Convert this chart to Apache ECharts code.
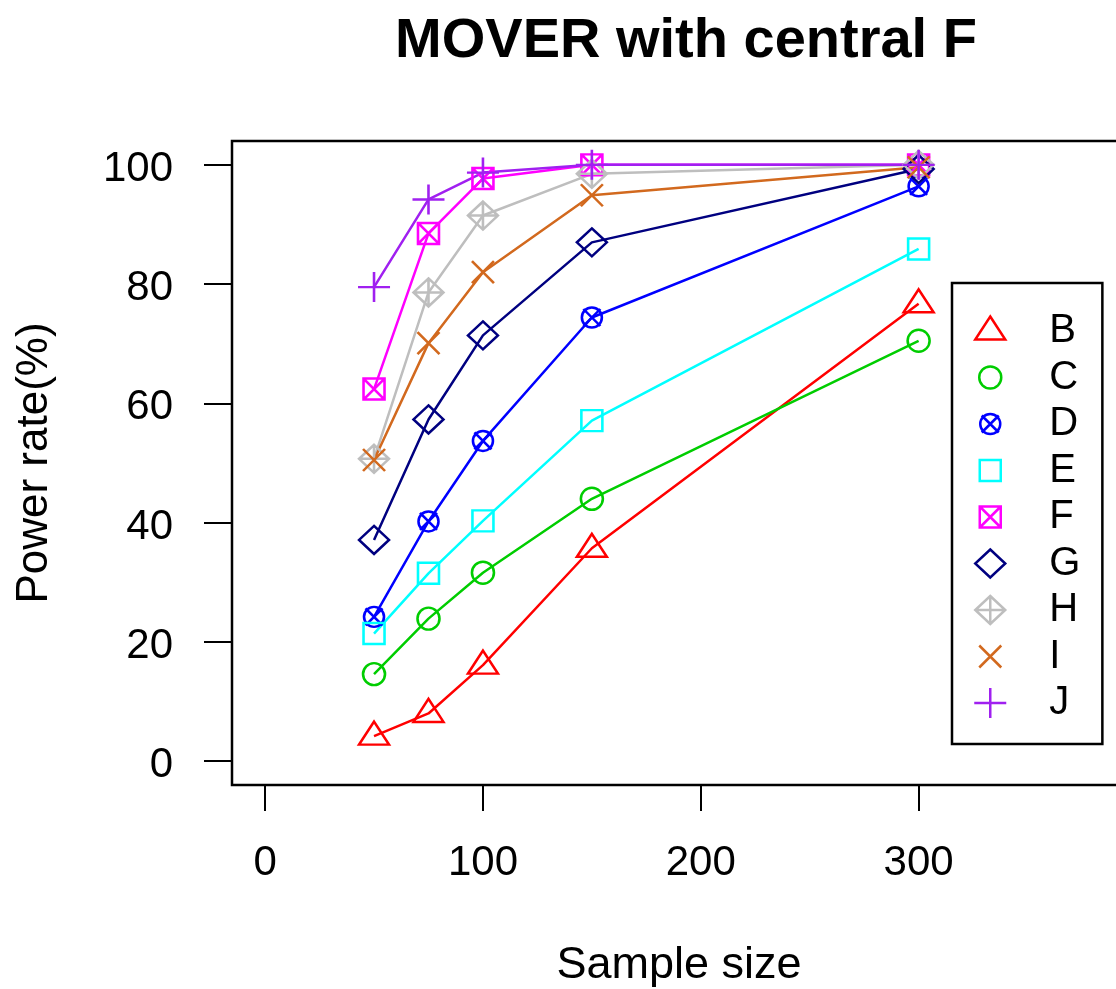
<!DOCTYPE html>
<html>
<head>
<meta charset="utf-8">
<title>MOVER with central F</title>
<script src="https://cdn.jsdelivr.net/npm/echarts@6/dist/echarts.min.js"></script>
<style>
  html, body { margin: 0; padding: 0; background: #ffffff; }
  #chart { width: 1116px; height: 989px; }
</style>
</head>
<body>
<div id="chart"></div>
<script>
// Sample sizes on the x axis
const sampleSizes = [50, 75, 100, 150, 300];

// Power rate (%) per method
const seriesB = [4.2, 8.0, 16.1, 35.7, 76.7];
const seriesC = [14.6, 23.9, 31.6, 44.0, 70.5];
const seriesD = [24.2, 40.2, 53.7, 74.4, 96.4];
const seriesE = [21.4, 31.5, 40.3, 57.1, 85.9];
const seriesF = [62.4, 88.5, 97.7, 100, 100];
const seriesG = [37.1, 57.3, 71.4, 87.0, 99.3];
const seriesH = [50.7, 78.6, 91.5, 98.5, 100];
const seriesI = [50.5, 70.1, 82.0, 94.9, 99.6];
const seriesJ = [79.5, 94.2, 98.7, 100, 100];

const methodNames = ['B', 'C', 'D', 'E', 'F', 'G', 'H', 'I', 'J'];
const methodValues = [seriesB, seriesC, seriesD, seriesE, seriesF, seriesG, seriesH, seriesI, seriesJ];

// Tick labels
const xTicks = [0, 100, 200, 300];
const yTicks = [0, 20, 40, 60, 80, 100];

const colors = ['#FF0000', '#00CD00', '#0000FF', '#00FFFF', '#FF00FF', '#000080', '#BEBEBE', '#D2691E', '#A020F0'];

// Open plotting symbols, all drawn in a common 32x30 frame
const FRAME = 'M0,0 M32,30 ';
const symbols = [
  FRAME + 'M16,0.5 L31,23.5 L1,23.5 Z',                                           // triangle
  FRAME + 'M5,15 A11,11 0 1 1 27,15 A11,11 0 1 1 5,15 Z',                          // circle
  FRAME + 'M6,15 A10,10 0 1 1 26,15 A10,10 0 1 1 6,15 Z M7.5,6.5 L24.5,23.5 M7.5,23.5 L24.5,6.5', // circle with x
  FRAME + 'M5.5,4.5 L26.5,4.5 L26.5,25.5 L5.5,25.5 Z',                             // square
  FRAME + 'M5.5,4.5 L26.5,4.5 L26.5,25.5 L5.5,25.5 Z M5.5,4.5 L26.5,25.5 M5.5,25.5 L26.5,4.5', // square with x
  FRAME + 'M16,1 L31,15 L16,29 L1,15 Z',                                           // diamond
  FRAME + 'M16,1 L31,15 L16,29 L1,15 Z M16,1 L16,29 M1,15 L31,15',                 // diamond with plus
  FRAME + 'M5,4 L27,26 M5,26 L27,4',                                               // x
  FRAME + 'M16,0 L16,30 M0,15 L32,15'                                              // plus
].map(p => 'path://' + p);

const FONT = '"Liberation Sans", Arial, Helvetica, sans-serif';

const series = methodNames.map((name, k) => ({
  type: 'line',
  name: name,
  data: sampleSizes.map((x, i) => [x, methodValues[k][i]]),
  symbol: symbols[k],
  symbolSize: [32, 30],
  symbolKeepAspect: false,
  showAllSymbol: true,
  lineStyle: { color: colors[k], width: 2.5 },
  itemStyle: { color: 'transparent', borderColor: colors[k], borderWidth: 2.5 },
  emphasis: { disabled: true },
  animation: false
}));

const chart = echarts.init(document.getElementById('chart'), null, { renderer: 'canvas' });

chart.setOption({
  backgroundColor: '#ffffff',
  animation: false,
  title: {
    text: 'MOVER with central F',
    left: 681,
    top: 9,
    textAlign: 'center',
    textStyle: { fontFamily: FONT, fontSize: 56, fontWeight: 'bold', color: '#000000' }
  },
  grid: {
    left: 232,
    top: 141,
    width: 894,
    height: 644,
    show: true,
    borderColor: '#000000',
    borderWidth: 2.5,
    backgroundColor: 'transparent',
    containLabel: false,
    outerBoundsMode: 'none'
  },
  xAxis: {
    type: 'value',
    position: 'bottom',
    min: -15.2,
    max: 395.2,
    axisLine: { show: false, onZero: false },
    splitLine: { show: false },
    axisTick: { show: true, inside: false, customValues: xTicks, length: 26, lineStyle: { color: '#000000', width: 2 } },
    axisLabel: { customValues: xTicks, margin: 57, fontSize: 42, color: '#000000', fontFamily: FONT },
    name: 'Sample size',
    nameLocation: 'middle',
    nameGap: 158,
    nameMoveOverlap: false,
    nameTextStyle: { fontSize: 45, color: '#000000', fontFamily: FONT }
  },
  yAxis: {
    type: 'value',
    position: 'left',
    min: -4,
    max: 104,
    axisLine: { show: false, onZero: false },
    splitLine: { show: false },
    axisTick: { show: true, inside: false, customValues: yTicks, length: 28, lineStyle: { color: '#000000', width: 2 } },
    axisLabel: {
      customValues: yTicks,
      margin: 59,
      formatter: '{v|{value}}',
      rich: { v: { fontSize: 42, color: '#000000', fontFamily: FONT, padding: [9, 0, 0, 0] } },
      fontSize: 42, color: '#000000', fontFamily: FONT
    },
    name: 'Power rate(%)',
    nameLocation: 'middle',
    nameGap: 175,
    nameMoveOverlap: false,
    nameTextStyle: { fontSize: 44, color: '#000000', fontFamily: FONT }
  },
  legend: {
    orient: 'vertical',
    left: 952,
    top: 283,
    padding: [28, 22, 21, 21],
    itemWidth: 32,
    itemHeight: 30,
    itemGap: 6.5,
    itemTextGap: 5,
    borderColor: '#000000',
    borderWidth: 2.5,
    backgroundColor: '#ffffff',
    selectedMode: false,
    textStyle: { fontSize: 40, color: '#000000', fontFamily: FONT, padding: [0, 0, 0, 38] },
    data: methodNames.map((name, k) => ({
      name: name,
      icon: symbols[k],
      itemStyle: { color: 'transparent', borderColor: colors[k], borderWidth: 2.5 }
    }))
  },
  series: series
});
</script>
</body>
</html>
